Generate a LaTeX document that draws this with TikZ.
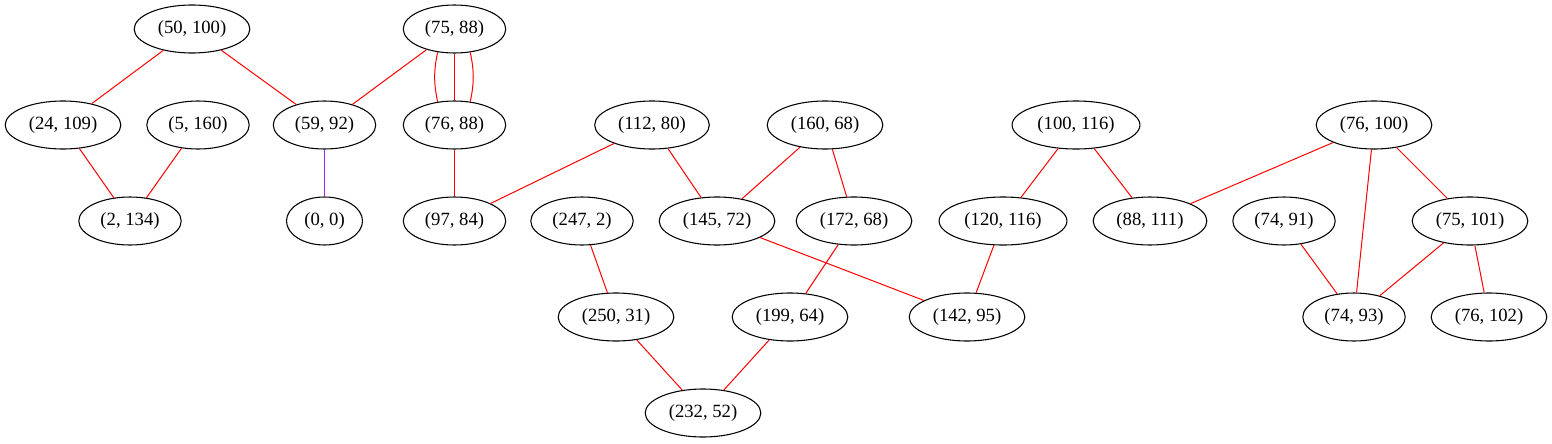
\documentclass[tikz,border=0pt]{standalone}
\usepackage{fontspec}
\setmainfont{Liberation Serif}
\usetikzlibrary{shapes.geometric}
\definecolor{edgepurple}{HTML}{A020F0}
\begin{document}
\begin{tikzpicture}[x=0.75pt,y=-0.75pt]
      \useasboundingbox (0,0) rectangle (1552,443);

      \begin{scope}[every node/.style={ellipse,draw,line width=0.8pt,inner xsep=5pt,inner ysep=3pt,minimum height=36pt,font=\fontsize{14pt}{16pt}\selectfont}]
        \node (1)  at (192,29)  {(50, 100)};
        \node (2)  at (454.5,29)  {(75, 88)};
        \node (3)  at (63,125)  {(24, 109)};
        \node (4)  at (198,125) {(5, 160)};
        \node (5)  at (324.5,125) {(59, 92)};
        \node (6)  at (454.5,125) {(76, 88)};
        \node (7)  at (652,125) {(112, 80)};
        \node (8)  at (825,125) {(160, 68)};
        \node (9)  at (1076,125) {(100, 116)};
        \node (10) at (1374,125) {(76, 100)};
        \node (11) at (130,221) {(2, 134)};
        \node (12) at (324.5,221) {(0, 0)};
        \node (13) at (454.5,221) {(97, 84)};
        \node (14) at (582,221) {(247, 2)};
        \node (15) at (717,221) {(145, 72)};
        \node (16) at (854,221) {(172, 68)};
        \node (17) at (1003,221) {(120, 116)};
        \node (18) at (1150,221) {(88, 111)};
        \node (19) at (1284,221) {(74, 91)};
        \node (20) at (1470,221) {(75, 101)};
        \node (21) at (616,317) {(250, 31)};
        \node (22) at (790,317) {(199, 64)};
        \node (23) at (967,317) {(142, 95)};
        \node (24) at (1354,317) {(74, 93)};
        \node (25) at (1489,317) {(76, 102)};
        \node (26) at (703,413) {(232, 52)};
      \end{scope}

      \begin{scope}[every edge/.style={draw,red,line width=0.75pt}]
        \path (1)  edge (3);
        \path (1)  edge (5);
        \path (2)  edge (5);
        \path (2)  edge (6);
        \path (2.-126) edge[bend right=12] (6.126);
        \path (2.-56)  edge[bend left=12]  (6.56);
        \path (3)  edge (11);
        \path (4)  edge (11);
        \path (5)  edge[edgepurple] (12);
        \path (6)  edge (13);
        \path (7)  edge (13);
        \path (7)  edge (15);
        \path (8)  edge (15);
        \path (8)  edge (16);
        \path (9)  edge (17);
        \path (9)  edge (18);
        \path (10) edge (18);
        \path (10) edge (24);
        \path (10) edge (20);
        \path (19) edge (24);
        \path (20) edge (24);
        \path (20) edge (25);
        \path (14) edge (21);
        \path (15) edge (23);
        \path (16) edge (22);
        \path (17) edge (23);
        \path (21) edge (26);
        \path (22) edge (26);
      \end{scope}

    \end{tikzpicture}
\end{document}
